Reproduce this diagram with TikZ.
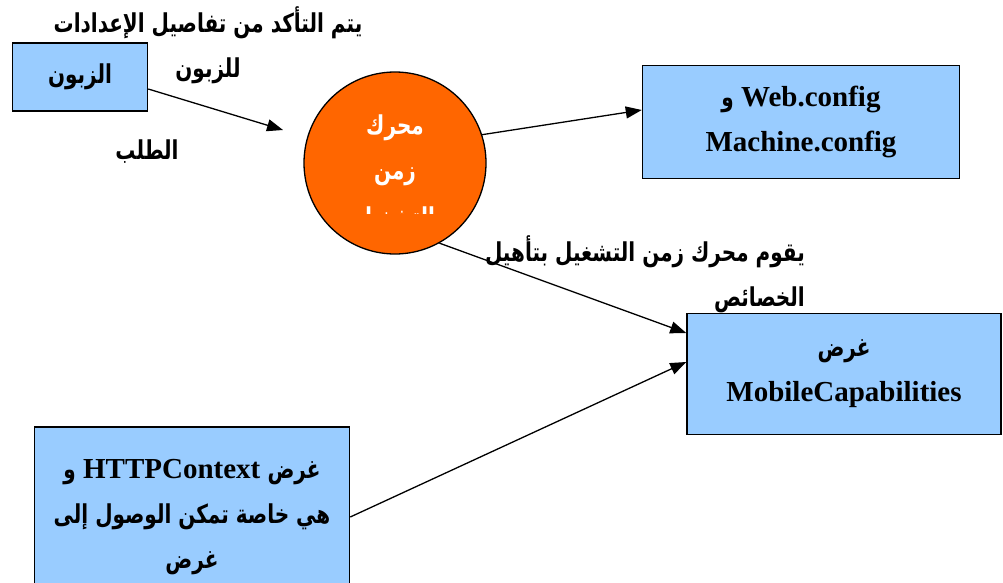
\documentclass[tikz,border=0pt]{standalone}
\usepackage{fontspec}
\usepackage{graphicx}
\setmainfont{Liberation Serif}
\newfontfamily\arabicfont[Script=Arabic]{DejaVu Sans}
\TeXXeTstate=1
\usetikzlibrary{arrows.meta, positioning, calc}
\definecolor{boxblue}{HTML}{99CCFF}
\definecolor{engineorange}{HTML}{FF6600}
\newcommand{\arword}[1]{\scalebox{1}[1.3]{\arabicfont\bfseries\fontsize{20}{45}\selectfont\beginR #1\endR}}

\begin{document}
\begin{tikzpicture}[
  x=1pt, y=-1pt,
  bluebox/.style={rectangle, draw, line width=1.5pt, fill=boxblue, align=center, inner sep=0pt, font=\fontsize{29}{45}\selectfont\bfseries},
  lbl/.style={align=center, inner sep=0pt, font=\fontsize{20}{45}\selectfont},
  enginetext/.style={text=white, inner sep=0pt, font=\fontsize{20}{45}\selectfont},
  arrow/.style={-{Triangle[length=16pt, width=12pt]}, line width=1.3pt}
]
  \useasboundingbox (0,0) rectangle (1003,583);

  % boxes (mixed lines written in visual order, left to right)
  \node[bluebox, minimum width=135, minimum height=68] (client) at (80,77) {\arword{الزبون}};
  \node[bluebox, minimum width=317, minimum height=113] (webbox) at (801,122) {\arword{و} Web.config\\Machine.config};
  \node[bluebox, minimum width=314, minimum height=121] (mobilebox) at (844,374) {\arword{غرض}\\MobileCapabilities};
  \node[bluebox, minimum width=315, minimum height=180] (httpbox) at (192,517) {\arword{و} HTTPContext \arword{غرض}\\\arword{هي خاصة تمكن الوصول إلى}\\\arword{غرض}};

  % runtime engine
  \node[circle, draw, line width=1.3pt, fill=engineorange, minimum size=182, inner sep=0pt] (engine) at (395,163) {};
  \node[enginetext, align=center] (enginelbl) at (395,150) {\arword{محرك}\\\arword{زمن}};
  \begin{scope}
    \clip (300,150) rectangle (490,213);
    \node[enginetext] (enginelbl3) at (395,219) {\arword{التشغيل}};
  \end{scope}

  % labels
  \node[lbl] (checklbl) at (208,45) {\arword{يتم التأكد من تفاصيل الإعدادات}\\\arword{للزبون}};
  \node[lbl] (reqlbl) at (147,152) {\arword{الطلب}};
  \node[lbl, align=right, anchor=east] (fitlbl) at (805,274) {\arword{يقوم محرك زمن التشغيل بتأهيل}\\\arword{الخصائص}};

  % connectors
  \coordinate (reqend) at (283,130);
  \draw[arrow] (client.east |- 0,89) -- (reqend);
  \draw[arrow] (engine.18) -- ($(webbox.west)+(0,-12)$);
  \draw[arrow] (engine.-61) -- ($(mobilebox.west)+(0,-41)$);
  \draw[arrow] (httpbox.east) -- ($(mobilebox.west)+(0,-12)$);
\end{tikzpicture}
\end{document}
